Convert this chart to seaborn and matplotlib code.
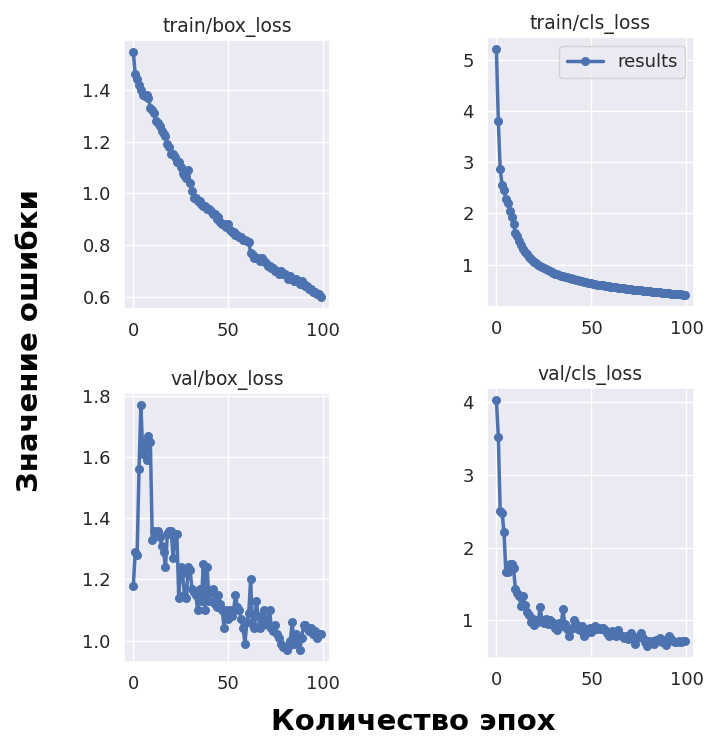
import matplotlib
matplotlib.use("Agg")
import matplotlib.pyplot as plt
import numpy as np
import seaborn as sns

epochs = list(range(100))

train_box_loss = [
    1.545, 1.46, 1.44, 1.42, 1.40, 1.38, 1.375, 1.38, 1.37, 1.33,
    1.32, 1.31, 1.28, 1.27, 1.26, 1.24, 1.23, 1.22, 1.19, 1.18,
    1.15, 1.15, 1.14, 1.12, 1.12, 1.10, 1.08, 1.07, 1.06, 1.09,
    1.04, 1.01, 0.98, 0.98, 0.97, 0.97, 0.96, 0.95, 0.95, 0.94,
    0.94, 0.93, 0.92, 0.92, 0.90, 0.91, 0.89, 0.88, 0.88, 0.87,
    0.88, 0.86, 0.85, 0.85, 0.84, 0.84, 0.83, 0.83, 0.82, 0.82,
    0.815, 0.81, 0.77, 0.76, 0.75, 0.75, 0.75, 0.74, 0.75, 0.74,
    0.73, 0.72, 0.72, 0.71, 0.71, 0.70, 0.70, 0.69, 0.70, 0.69,
    0.69, 0.68, 0.67, 0.68, 0.67, 0.66, 0.67, 0.66, 0.65, 0.66,
    0.65, 0.64, 0.64, 0.63, 0.63, 0.62, 0.62, 0.61, 0.61, 0.60,
]

train_cls_loss = [
    5.20, 3.80, 2.86, 2.55, 2.45, 2.27, 2.20, 2.05, 1.92, 1.80,
    1.62, 1.55, 1.45, 1.38, 1.30, 1.25, 1.20, 1.15, 1.10, 1.07,
    1.05, 1.02, 1.00, 0.98, 0.96, 0.94, 0.92, 0.90, 0.88, 0.86,
    0.84, 0.82, 0.81, 0.80, 0.78, 0.77, 0.76, 0.75, 0.74, 0.73,
    0.72, 0.71, 0.70, 0.69, 0.68, 0.67, 0.66, 0.65, 0.645, 0.64,
    0.63, 0.625, 0.62, 0.61, 0.605, 0.60, 0.595, 0.59, 0.585, 0.58,
    0.57, 0.565, 0.56, 0.555, 0.55, 0.545, 0.54, 0.535, 0.53, 0.525,
    0.52, 0.515, 0.51, 0.505, 0.50, 0.50, 0.495, 0.49, 0.485, 0.48,
    0.48, 0.475, 0.47, 0.465, 0.46, 0.46, 0.455, 0.45, 0.445, 0.44,
    0.44, 0.435, 0.43, 0.43, 0.425, 0.42, 0.42, 0.415, 0.41, 0.41,
]

val_box_loss = [
    1.18, 1.29, 1.28, 1.56, 1.77, 1.61, 1.65, 1.59, 1.67, 1.65,
    1.33, 1.36, 1.35, 1.36, 1.34, 1.31, 1.29, 1.24, 1.35, 1.36,
    1.36, 1.27, 1.35, 1.35, 1.14, 1.24, 1.22, 1.15, 1.14, 1.24,
    1.23, 1.17, 1.16, 1.15, 1.10, 1.17, 1.13, 1.25, 1.10, 1.24,
    1.13, 1.16, 1.17, 1.12, 1.11, 1.15, 1.12, 1.10, 1.04, 1.10,
    1.07, 1.10, 1.08, 1.10, 1.15, 1.11, 1.10, 1.07, 1.04, 0.99,
    1.06, 1.09, 1.20, 1.05, 1.04, 1.13, 1.08, 1.04, 1.05, 1.10,
    1.07, 1.05, 1.10, 1.04, 1.03, 1.05, 1.02, 1.01, 0.99, 0.98,
    0.98, 0.97, 0.98, 1.00, 1.06, 0.99, 1.02, 1.00, 0.97, 1.01,
    1.05, 1.05, 1.04, 1.03, 1.04, 1.02, 1.03, 1.01, 1.02, 1.02,
]

val_cls_loss = [
    4.03, 3.53, 2.50, 2.48, 2.21, 1.66, 1.67, 1.77, 1.78, 1.72,
    1.43, 1.38, 1.33, 1.20, 1.34, 1.21, 1.12, 1.08, 0.98, 1.02,
    0.94, 1.01, 0.98, 1.18, 1.00, 0.96, 1.02, 0.95, 1.00, 0.98,
    0.94, 0.90, 0.86, 0.96, 0.92, 1.15, 0.95, 0.88, 0.79, 0.88,
    0.90, 1.01, 0.95, 0.88, 0.86, 0.92, 0.79, 0.83, 0.88, 0.90,
    0.84, 0.86, 0.92, 0.88, 0.90, 0.88, 0.89, 0.86, 0.82, 0.78,
    0.80, 0.85, 0.84, 0.79, 0.86, 0.80, 0.78, 0.75, 0.79, 0.74,
    0.79, 0.83, 0.76, 0.67, 0.76, 0.78, 0.83, 0.75, 0.70, 0.65,
    0.72, 0.70, 0.71, 0.68, 0.73, 0.72, 0.76, 0.70, 0.73, 0.66,
    0.72, 0.79, 0.74, 0.72, 0.70, 0.70, 0.71, 0.70, 0.71, 0.71,
]

titles = ["train/box_loss", "train/cls_loss", "val/box_loss", "val/cls_loss"]
series = [train_box_loss, train_cls_loss, val_box_loss, val_cls_loss]

sns.set_theme(style="darkgrid")
plt.rcParams["font.family"] = ["DejaVu Sans"]

fig = plt.figure(figsize=(7.06, 7.40), dpi=100, facecolor="white")

# axes boxes in figure fractions
positions = [
    [0.1756, 0.5824, 0.2918, 0.3635],
    [0.6898, 0.5851, 0.2932, 0.3649],
    [0.1756, 0.1054, 0.2918, 0.3635],
    [0.6898, 0.1108, 0.2932, 0.3649],
]

for i in range(4):
    ax = fig.add_axes(positions[i])
    sns.lineplot(
        x=epochs,
        y=series[i],
        marker="o",
        markersize=6.5,
        markeredgewidth=0,
        linewidth=2.5,
        color="#4C72B0",
        label="results" if i == 1 else None,
        legend=(i == 1),
        ax=ax,
    )
    ax.set_title(titles[i], fontsize=13.5, color="#262626", pad=6)
    ax.tick_params(labelsize=13, colors="#262626")
    ax.set_xticks([0, 50, 100])
    if i == 1:
        ax.legend(loc="upper right", fontsize=13)

fig.text(0.042, 0.54, "Значение ошибки", rotation=90, ha="center", va="center",
         fontsize=21, fontweight="bold", color="black")
fig.text(0.586, 0.025, "Количество эпох", ha="center", va="center",
         fontsize=21, fontweight="bold", color="black")

fig.savefig("out.png", dpi=100, facecolor="white")
